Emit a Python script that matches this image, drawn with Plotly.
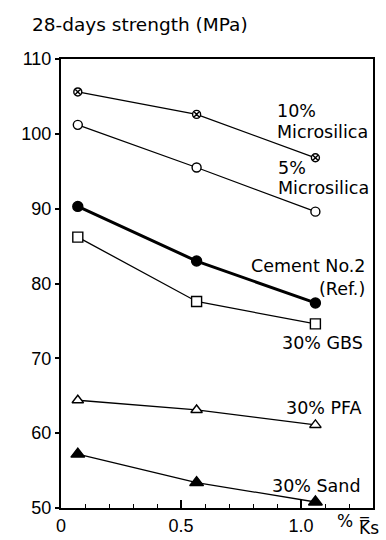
import plotly.graph_objects as go

x_ks = [0.07, 0.565, 1.06]
micro10 = [105.6, 102.6, 96.8]
micro5 = [101.2, 95.5, 89.6]
cement = [90.3, 83.0, 77.4]
gbs = [86.2, 77.6, 74.6]
pfa = [64.4, 63.1, 61.1]
sand = [57.2, 53.4, 50.8]

TICKFONT = "Liberation Sans Narrow, Liberation Sans, sans-serif"
TXT = "DejaVu Sans, sans-serif"

# name, values, symbol, size, fill, line width
series = [
    ("10% Microsilica", micro10, "circle-x", 8, "white", 1.3),
    ("5% Microsilica", micro5, "circle", 9, "white", 1.3),
    ("Cement No.2 (Ref.)", cement, "circle", 10, "black", 3),
    ("30% GBS", gbs, "square", 10, "white", 1.3),
    ("30% PFA", pfa, "triangle-up", 10, "white", 1.3),
    ("30% Sand", sand, "triangle-up", 12, "black", 1.3),
]

fig = go.Figure()
for name, ys, sym, sz, fill, lw in series:
    fig.add_trace(go.Scatter(
        x=x_ks, y=ys, mode="lines+markers", name=name,
        line=dict(color="black", width=lw),
        marker=dict(symbol=sym, size=sz, color=fill,
                    line=dict(color="black", width=1.4)),
        showlegend=False,
    ))

# curve labels (data coordinates)
labels = [
    ("10%", 0.893, 103.0, "left"),
    ("Microsilica", 0.893, 100.3, "left"),
    ("5%", 0.895, 95.4, "left"),
    ("Microsilica", 0.895, 92.8, "left"),
    ("Cement No.2", 1.278, 82.4, "right"),
    ("(Ref.)", 1.274, 79.2, "right"),
    ("30% GBS", 1.267, 72.0, "right"),
    ("30% PFA", 1.26, 63.3, "right"),
    ("30% Sand", 1.257, 53.0, "right"),
]
for t, ax_, ay_, xa in labels:
    fig.add_annotation(x=ax_, y=ay_, xref="x", yref="y", text=t, showarrow=False,
                       xanchor=xa, yanchor="middle", font=dict(family=TXT, size=17.5, color="black"))

# y-axis title at top left
fig.add_annotation(x=-0.0995, y=1.077, xref="paper", yref="paper", text="28-days strength (MPa)",
                   showarrow=False, xanchor="left", yanchor="middle",
                   font=dict(family=TXT, size=18.5, color="black"))
# x-axis title at bottom right
fig.add_annotation(x=0.879, y=-0.029, xref="paper", yref="paper", text="%",
                   showarrow=False, xanchor="left", yanchor="middle",
                   font=dict(family=TXT, size=17, color="black"))
fig.add_annotation(x=0.948, y=-0.0705, xref="paper", yref="paper", text="K\u033fs",
                   showarrow=False, xanchor="left", yanchor="bottom",
                   font=dict(family=TXT, size=17, color="black"))

fig.update_xaxes(range=[0, 1.3], tickvals=[0, 0.5, 1.0], ticktext=["0", "0.5", "1.0"],
                 ticks="inside", ticklen=8, tickwidth=1.5, tickcolor="black",
                 minor=dict(dtick=0.1, tick0=0, ticks="inside", ticklen=4, tickcolor="black", tickwidth=1.2),
                 showline=True, linecolor="black", linewidth=2, mirror=True,
                 showgrid=False, zeroline=False, automargin=False,
                 tickfont=dict(family=TICKFONT, size=18, color="black"))
fig.update_yaxes(range=[50, 110], dtick=10, tick0=50,
                 ticks="outside", ticklen=4, tickwidth=1.5, tickcolor="black",
                 showline=True, linecolor="black", linewidth=2, mirror=True,
                 showgrid=False, zeroline=False, automargin=False,
                 tickfont=dict(family=TICKFONT, size=18, color="black"))

fig.update_layout(width=386, height=540, plot_bgcolor="white", paper_bgcolor="white",
                  margin=dict(l=61, r=13, t=59, b=32))
fig.write_html("out.html", config={"displayModeBar": False},
               post_script="document.body.style.margin='0';")
